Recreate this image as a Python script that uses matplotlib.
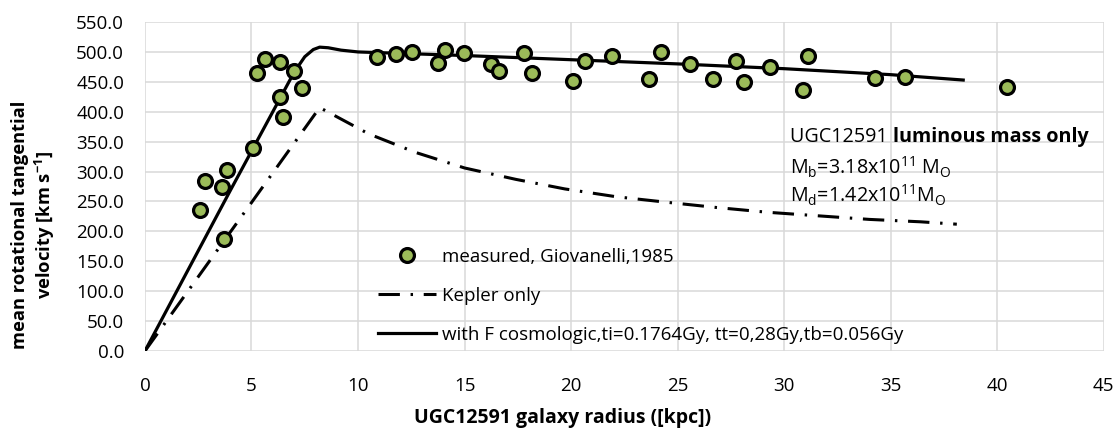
import numpy as np
import matplotlib
matplotlib.use("Agg")
import matplotlib.pyplot as plt

plt.rcParams['font.family'] = ['Open Sans', 'DejaVu Sans']
plt.rcParams['mathtext.fontset'] = 'custom'
plt.rcParams['mathtext.rm'] = 'Open Sans'

# measured rotation curve points (radius kpc, velocity km/s)
r_meas = [2.58, 2.80, 3.60, 3.72, 3.87, 5.08, 5.24, 5.63, 6.34, 6.34, 6.46, 7.00, 7.38,
          10.88, 11.78, 12.52, 13.75, 14.10, 14.98, 16.24, 16.60, 17.80, 18.18, 20.10,
          20.66, 21.90, 23.67, 24.20, 25.60, 26.65, 27.75, 28.10, 29.34, 30.90, 31.10,
          34.27, 35.68, 40.45]
v_meas = [236, 285, 275, 188, 303, 340, 465, 489, 483, 424, 392, 468, 440,
          492, 496, 500, 482, 504, 499, 479, 468, 499, 465, 451,
          485, 494, 454, 500, 480, 454, 485, 449, 475, 436, 494,
          457, 458, 441]

# Kepler-only curve
r_kep = [0, 8.2, 10.5, 12.7, 15.0, 17.4, 19.7, 22.1, 24.4, 26.8, 29.2, 31.6, 34.0, 36.4, 38.1]
v_kep = [0, 407, 363, 332, 306, 287, 271, 258, 249, 240, 232, 226, 220, 216, 212]

# model with cosmological force
r_cos = [0, 2, 4, 6, 7.0, 7.5, 7.9, 8.2, 8.6, 9.2, 10, 15, 20, 25, 30, 35, 38.4]
v_cos = [0, 134, 268, 400, 466, 492, 504, 508, 507, 503, 500, 494, 487, 480, 472, 462, 453]

x_ticks = np.arange(0, 46, 5)
y_ticks = np.arange(0, 551, 50)

fig = plt.figure(figsize=(11.15, 4.32), dpi=100)
ax = fig.add_axes([0.130, 0.1875, 0.860, 0.7615])

ax.set_xlim(0, 45)
ax.set_ylim(0, 550)
ax.set_xticks(x_ticks)
ax.set_yticks(y_ticks)
ax.set_yticklabels([f"{v:.1f}" for v in y_ticks])
ax.grid(True, color='#d9d9d9', linewidth=1.1)
ax.set_axisbelow(True)
for s in ax.spines.values():
    s.set_visible(False)
ax.tick_params(length=0, labelsize=13.5, colors='black')
ax.tick_params(axis='x', pad=19)
ax.tick_params(axis='y', pad=15)

ax.plot(r_meas, v_meas, 'o', ms=10, mfc='#9bbb59', mec='black', mew=2.3,
        label='measured, Giovanelli,1985', zorder=4)
ax.plot(r_kep, v_kep, color='black', lw=2.2, dashes=(7, 3.5, 0.8, 3.5),
        label='Kepler only', zorder=3)
ax.plot(r_cos, v_cos, color='black', lw=2.3, label=(
    'with F cosmologic,ti=0.1764Gy, tt=0,28Gy,tb=0.056Gy'), zorder=3)

leg = ax.legend(loc='upper left', bbox_to_anchor=(378 / 1115, 1 - 248 / 432),
                bbox_transform=fig.transFigure, frameon=False, fontsize=13.5,
                numpoints=1, handlelength=3.1, handletextpad=0.3,
                labelspacing=1.12, borderpad=0, borderaxespad=0)

t1 = ax.text(790 / 1115, 1 - 142 / 432, "UGC12591 ", transform=fig.transFigure,
             fontsize=14.2, va='baseline')
ax.annotate("luminous mass only", xy=(1, 0), xycoords=t1, va='bottom',
            fontsize=14.2, fontweight='bold')
ax.text(790 / 1115, 1 - 174 / 432,
        r"M$_\mathregular{b}$=3.18x10$^\mathregular{11}$ M$_\mathregular{O}$",
        transform=fig.transFigure, fontsize=14.2, va='baseline')
ax.text(790 / 1115, 1 - 203 / 432,
        r"M$_\mathregular{d}$=1.42x10$^\mathregular{11}$M$_\mathregular{O}$",
        transform=fig.transFigure, fontsize=14.2, va='baseline')

fig.text(563 / 1115, 1 - 418 / 432, "UGC12591 galaxy radius ([kpc])",
         ha='center', va='center', fontsize=14, fontweight='bold')
fig.text(34 / 1115, 1 - 225 / 432,
         "mean rotational tangential\nvelocity [km s$^\\mathregular{-1}$]",
         ha='center', va='center', rotation=90, fontsize=13.2,
         fontweight='bold', linespacing=1.2)

fig.savefig('out.png', dpi=100)
